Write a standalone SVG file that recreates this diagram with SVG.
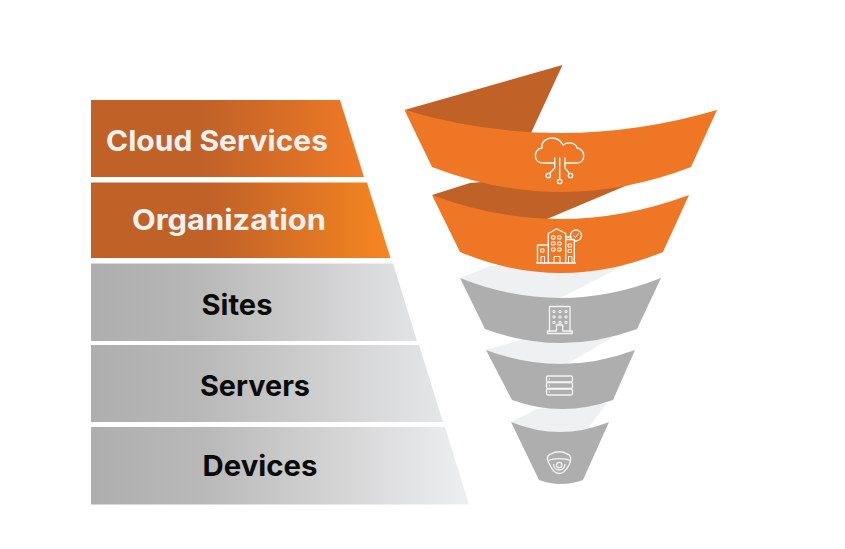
<svg xmlns="http://www.w3.org/2000/svg" width="845" height="549" viewBox="0 0 845 549">
<defs>
<linearGradient id="o1" gradientUnits="userSpaceOnUse" x1="91" y1="0" x2="364" y2="0"><stop offset="0" stop-color="#c06128"/><stop offset="0.4" stop-color="#c06128"/><stop offset="1" stop-color="#f07a25"/></linearGradient>
<linearGradient id="o2" gradientUnits="userSpaceOnUse" x1="91" y1="0" x2="390" y2="0"><stop offset="0" stop-color="#c06128"/><stop offset="0.4" stop-color="#c06128"/><stop offset="1" stop-color="#f68620"/></linearGradient>
<linearGradient id="g1" gradientUnits="userSpaceOnUse" x1="91" y1="0" x2="417" y2="0"><stop offset="0" stop-color="#aeaeae"/><stop offset="0.3" stop-color="#b6b6b6"/><stop offset="1" stop-color="#e2e3e4"/></linearGradient>
<linearGradient id="g2" gradientUnits="userSpaceOnUse" x1="91" y1="0" x2="443" y2="0"><stop offset="0" stop-color="#aeaeae"/><stop offset="0.3" stop-color="#b8b8b8"/><stop offset="1" stop-color="#e5e6e7"/></linearGradient>
<linearGradient id="g3" gradientUnits="userSpaceOnUse" x1="91" y1="0" x2="469" y2="0"><stop offset="0" stop-color="#aeaeae"/><stop offset="0.3" stop-color="#b9b9b9"/><stop offset="1" stop-color="#eeeff0"/></linearGradient>
</defs>
<style>
.lab{font-family:"Inter","Liberation Sans",sans-serif;font-weight:700;font-size:28.500px;text-anchor:middle}
.w{fill:#f1f1f2}.k{fill:#0b0b0b}
.front-o{fill:#ef7625}.back-o{fill:#c06128}.front-g{fill:#aeaeae}.back-g{fill:#eef0f2}
.ic{fill:none;stroke:#fff;stroke-width:1.300;stroke-linecap:round;stroke-linejoin:round}
.ig{fill:none;stroke:#f4f4f4;stroke-width:1.300;stroke-linejoin:round}
</style>
<rect width="845" height="549" fill="#fff"/>
<g id="bar-cloud-services"><polygon points="91,100 340,100 364,177 91,177" fill="url(#o1)"/><text class="lab w" x="217" y="150.500" textLength="222" lengthAdjust="spacingAndGlyphs">Cloud Services</text></g>
<g id="bar-organization"><polygon points="91,182.500 367,182.500 390.500,258 91,258" fill="url(#o2)"/><text class="lab w" x="229" y="229.500" textLength="194" lengthAdjust="spacingAndGlyphs">Organization</text></g>
<g id="bar-sites"><polygon points="91,263.500 393,263.500 417,341 91,341" fill="url(#g1)"/><text class="lab k" x="237" y="314.500" textLength="71" lengthAdjust="spacingAndGlyphs">Sites</text></g>
<g id="bar-servers"><polygon points="91,345 419,345 443,422 91,422" fill="url(#g2)"/><text class="lab k" x="255" y="395.500" textLength="110" lengthAdjust="spacingAndGlyphs">Servers</text></g>
<g id="bar-devices"><polygon points="91,427 445,427 469,504.500 91,504.500" fill="url(#g3)"/><text class="lab k" x="260" y="476" textLength="115" lengthAdjust="spacingAndGlyphs">Devices</text></g>

<g id="funnel-devices">
<polygon class="back-g" points="511,422 537,409 607,403 585,432 585,436 540,438"/>
<path class="front-g" d="M511,422 Q560,442 609,422 L583,480 Q561,488 539,480 Z"/>
<g class="ig"><path d="M550,465 C546,459 547,455 551,454 C556,451 563,451 567,454 C571,455 572,459 569,465 C566,471 563,473.500 559.300,473.500 C555,473.500 552,470 550,465 Z"/><path d="M549,460.500 C553,458 565,458 570,460.500"/><circle cx="559.300" cy="465" r="2.700"/><path d="M553.500,464 C553.500,472 565,472 565,464"/></g>
</g>
<g id="funnel-servers">
<polygon class="back-g" points="486,350 527,338 613,337 567,364 567,370 520,366"/>
<path class="front-g" d="M486,350 Q560,378 635,350 L613,400 Q562,418 512,400 Z"/>
<g class="ig"><rect x="546.500" y="376" width="26" height="6" rx="1.500"/><rect x="546.500" y="382.500" width="26" height="6" rx="1.500"/><rect x="546.500" y="389" width="26" height="6" rx="1.500"/></g>
<g fill="#f4f4f4"><circle cx="549.500" cy="379" r=".7"/><circle cx="549.500" cy="385.500" r=".7"/><circle cx="549.500" cy="392" r=".7"/></g>
</g>
<g id="funnel-sites">
<polygon class="back-g" points="460,278 490,266 623,266 560,298 560,304 500,298"/>
<path class="front-g" d="M460,278 Q560,318 661,278 L637,329 Q561,357 485,329 Z"/>
<g class="ig"><path d="M549.500,332 V306.500 H570 V332 M547.500,333.500 V331 H556.500 V325 H562.700 V331 H572.300 V333.500 Z"/><g stroke-width="1"><rect x="553" y="310.500" width="2" height="2"/><rect x="559" y="310.500" width="2" height="2"/><rect x="565" y="310.500" width="2" height="2"/><rect x="553" y="316" width="2" height="2"/><rect x="559" y="316" width="2" height="2"/><rect x="565" y="316" width="2" height="2"/><rect x="553" y="321.500" width="2" height="2"/><rect x="559" y="321.500" width="2" height="2"/><rect x="565" y="321.500" width="2" height="2"/></g></g>
</g>
<g id="funnel-organization">
<polygon class="back-o" points="432,195 470,183 560,175 630,184 547,219 547,225 480,218"/>
<path class="front-o" d="M432,195 Q560,243 689,195 L663,252 Q561,294 460,252 Z"/>
<g class="ic"><path d="M537.500,263 V245 H548 M548.300,263 V233.500 L556.700,228.700 L565.700,233.500 V263 M565.700,239.500 H574.300 V263 M536.500,263 H575.500 M565.700,237 H570.500"/><circle cx="576" cy="235.500" r="5.500"/><path d="M573.500,235.500 L575.500,237.500 L578.500,233.500" stroke-width="1"/>
<g stroke-width="1"><rect x="541" y="249" width="3" height="3"/><path d="M541,263 V256.500 H544.500 V263 M554,263 V256.500 H560 V263 M568.500,263 V256.500 H572 V263"/><rect x="568.500" y="244" width="3" height="3"/><rect x="568.500" y="249.500" width="3" height="3"/><rect x="552" y="236" width="3" height="3"/><rect x="558" y="236" width="3" height="3"/><rect x="552" y="242" width="3" height="3"/><rect x="558" y="242" width="3" height="3"/><rect x="552" y="248" width="3" height="3"/><rect x="558" y="248" width="3" height="3"/></g></g>
</g>
<g id="funnel-cloud-services">
<polygon class="back-o" points="404.500,110 562.500,65 531,133 531,140 480,135"/>
<path class="front-o" d="M404.500,110 Q560,156 717,110 L691,167 Q561,217 432,167 Z"/>
<g class="ic"><path d="M554,163 H543 C533,163 533,149 542,148 C541,141 547,138 552,138 C557,138 561,141 563,145 C568,141 576,143 577,148 C586,149 586,163 577,163 H565"/><path d="M559.700,158 V179"/><path d="M554.700,158 V168 L550,173"/><path d="M565,158 V168 L569,173"/><circle cx="548.300" cy="175.500" r="2.200"/><circle cx="559.700" cy="181.500" r="2.200"/><circle cx="570.500" cy="175.500" r="2.200"/></g>
</g>
</svg>
